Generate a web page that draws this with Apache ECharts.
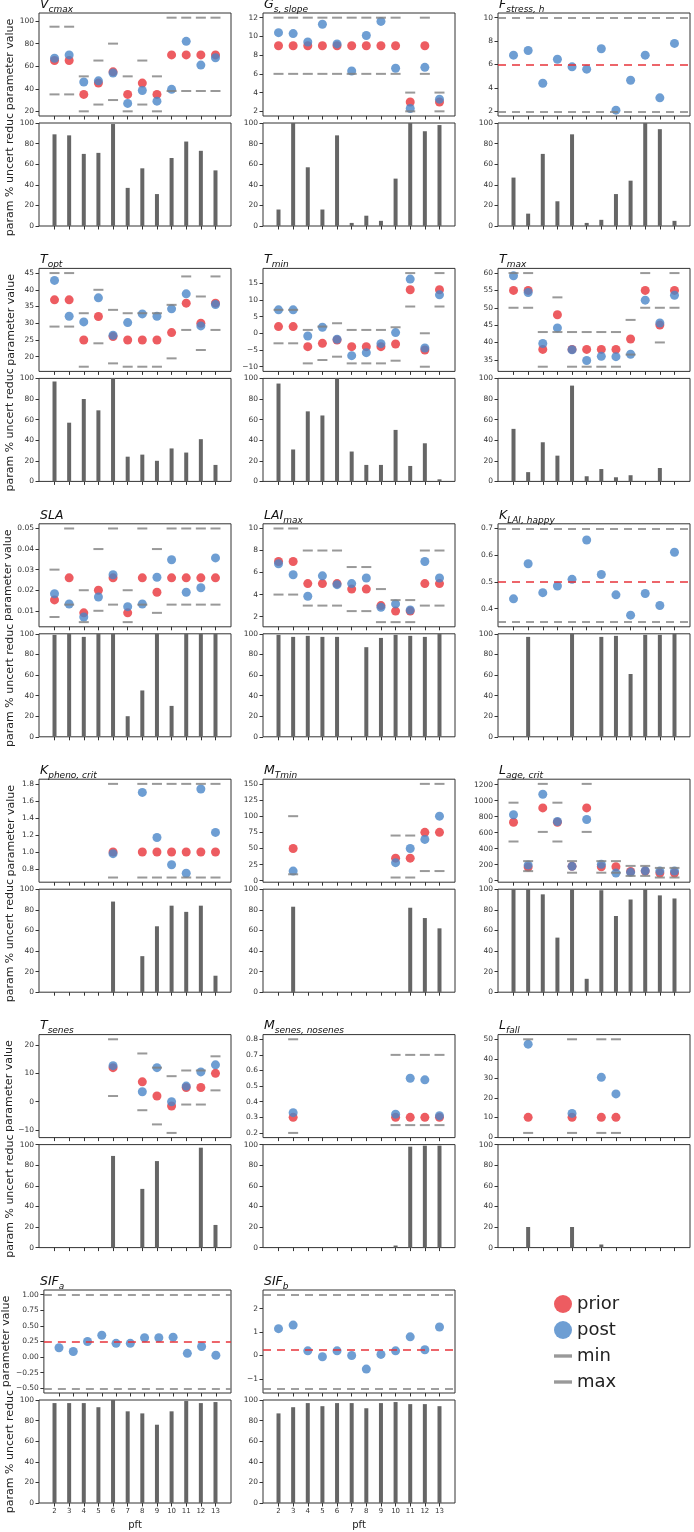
<!DOCTYPE html>
<html><head><meta charset="utf-8">
<script src="https://cdn.jsdelivr.net/npm/echarts@6/dist/echarts.min.js"></script>
<style>html,body{margin:0;padding:0;background:#fff}#c{width:694px;height:1532px}</style>
</head><body><div id="c"></div>
<script>
const pft = [2,3,4,5,6,7,8,9,10,11,12,13];
const reducTicks = [0,20,40,60,80,100];

const vcmaxPrior = [65,65,35,45,55,35,45,35,70,70,70,70];
const vcmaxPost  = [67,70,46,47,54,27,38.5,29,39.5,82,61,67.5];
const vcmaxMin   = [35,35,20,26,30,20,26,20,38,38,38,38];
const vcmaxMax   = [95,95,51,65,80,51,65,51,103,103,103,103];
const vcmaxReduc = [89,88,70,71,99,37,56,31,66,82,73,54];
const vcmaxTicks = [20,40,60,80,100];

const gsPrior = [9,9,9,9,9,9,9,9,9,3,9,3];
const gsPost  = [10.4,10.3,9.4,11.3,9.2,6.3,10.1,11.6,6.6,2.3,6.7,3.3];
const gsMin   = [6,6,6,6,6,6,6,6,6,2,6,2];
const gsMax   = [12,12,12,12,12,12,12,12,12,4,12,4];
const gsReduc = [16,100,57,16,88,3,10,5,46,100,92,98];
const gsTicks = [2,4,6,8,10,12];

const fstressPrior = 6, fstressMin = 2, fstressMax = 10;
const fstressPost  = [6.8,7.2,4.4,6.45,5.8,5.6,7.35,2.1,4.65,6.8,3.15,7.8];
const fstressReduc = [47,12,70,24,89,3,6,31,44,100,94,5];
const fstressTicks = [2,4,6,8,10];

const toptPrior = [37,37,25,32,26,25,25,25,27.2,36,30,36];
const toptPost  = [42.8,32.1,30.4,37.6,26.4,30.2,32.8,32.1,34.3,38.8,29.2,35.6];
const toptMin   = [29,29,17,24,18,17,17,17,19.5,28,22,28];
const toptMax   = [45,45,33,40,34,33,33,33,35.5,44,38,44];
const toptReduc = [97,57,80,69,100,24,26,20,32,28,41,16];
const toptTicks = [20,25,30,35,40,45];

const tminPrior = [2,2,-4,-3,-2,-4,-4,-4,-3.2,13,-5,13];
const tminPost  = [7,7,-0.8,1.8,-1.8,-6.7,-5.8,-3.1,0.2,16.2,-4.4,11.5];
const tminMin   = [-3,-3,-9,-8,-7,-9,-9,-9,-8.2,8,-10,8];
const tminMax   = [7,7,1,2,3,1,1,1,1.8,18,0,18];
const tminReduc = [95,31,68,64,100,29,16,16,50,15,37,2];
const tminTicks = [-10,-5,0,5,10,15];

const tmaxPrior = [55,55,38,48,38,38,38,38,41,55,45,55];
const tmaxPost  = [59.2,54.4,39.7,44.2,37.9,34.8,36.0,35.9,36.6,52.2,45.6,53.6];
const tmaxMin   = [50,50,33,43,33,33,33,33,36.5,50,40,50];
const tmaxMax   = [60,60,43,53,43,43,43,43,46.5,60,50,60];
const tmaxReduc = [51,9,38,25,93,5,12,4,6,0,13,0];
const tmaxTicks = [35,40,45,50,55,60];

const slaPrior = [0.0153,0.026,0.009,0.02,0.026,0.009,0.026,0.019,0.026,0.026,0.026,0.026];
const slaPost  = [0.0183,0.0133,0.007,0.0167,0.0275,0.012,0.0133,0.0263,0.0348,0.019,0.0212,0.0357];
const slaMin   = [0.007,0.013,0.0045,0.010,0.013,0.0045,0.013,0.009,0.013,0.013,0.013,0.013];
const slaMax   = [0.030,0.050,0.020,0.040,0.050,0.020,0.050,0.040,0.050,0.050,0.050,0.050];
const slaReduc = [99,100,97,100,100,20,45,100,30,100,100,100];
const slaTicks = [0.01,0.02,0.03,0.04,0.05];

const laiPrior = [7,7,5,5,5,4.5,4.5,3,2.5,2.5,5,5];
const laiPost  = [6.8,5.8,3.85,5.7,4.9,5.0,5.5,2.85,3.15,2.6,7.0,5.5];
const laiMin   = [4,4,3,3,3,2.5,2.5,1.5,1.5,1.5,3,3];
const laiMax   = [10,10,8,8,8,6.5,6.5,4.5,3.5,3.5,8,8];
const laiReduc = [99,97,98,97,97,0,87,96,99,98,97,100];
const laiTicks = [2,4,6,8,10];

const klaiPrior = 0.5, klaiMin = 0.35, klaiMax = 0.7;
const klaiPost  = [0.437,0.568,0.46,0.485,0.51,0.657,0.528,0.452,0.376,0.457,0.412,0.611];
const klaiReduc = [0,97,0,0,100,0,97,98,61,99,99,100];
const klaiTicks = [0.4,0.5,0.6,0.7];

const kphenoPrior = [null,null,null,null,1.0,null,1.0,1.0,1.0,1.0,1.0,1.0];
const kphenoPost  = [null,null,null,null,0.98,null,1.7,1.17,0.85,0.75,1.74,1.23];
const kphenoMin   = [null,null,null,null,0.7,null,0.7,0.7,0.7,0.7,0.7,0.7];
const kphenoMax   = [null,null,null,null,1.8,null,1.8,1.8,1.8,1.8,1.8,1.8];
const kphenoReduc = [0,0,0,0,88,0,35,64,84,78,84,16];
const kphenoTicks = [0.8,1.0,1.2,1.4,1.6,1.8];

const mtminPrior = [null,50,null,null,null,null,null,null,35,35,75,75];
const mtminPost  = [null,15,null,null,null,null,null,null,28,50,64,100];
const mtminMin   = [null,10,null,null,null,null,null,null,5,5,15,15];
const mtminMax   = [null,100,null,null,null,null,null,null,70,70,150,150];
const mtminReduc = [0,83,0,0,0,0,0,0,0,82,72,62];
const mtminTicks = [0,25,50,75,100,125,150];

const lagePrior = [730,170,910,730,180,910,175,175,115,120,95,95];
const lagePost  = [825,195,1080,740,180,765,205,95,105,125,120,120];
const lageMin   = [490,120,610,490,100,610,100,100,60,60,40,40];
const lageMax   = [975,245,1210,975,245,1210,245,245,185,185,160,160];
const lageReduc = [100,100,95,53,100,13,99,74,90,100,94,91];
const lageTicks = [0,200,400,600,800,1000,1200];

const tsenesPrior = [null,null,null,null,12,null,7,2,-1.5,5,5,10];
const tsenesPost  = [null,null,null,null,12.7,null,3.5,12,0,5.5,10.5,13];
const tsenesMin   = [null,null,null,null,2,null,-3,-8,-11,-1,-1,4];
const tsenesMax   = [null,null,null,null,22,null,17,12,9,11,11,16];
const tsenesReduc = [0,0,0,0,89,0,57,84,0,0,97,22];
const tsenesTicks = [-10,0,10,20];

const msenesPrior = [null,0.3,null,null,null,null,null,null,0.3,0.3,0.3,0.3];
const msenesPost  = [null,0.33,null,null,null,null,null,null,0.32,0.55,0.54,0.31];
const msenesMin   = [null,0.2,null,null,null,null,null,null,0.25,0.25,0.25,0.25];
const msenesMax   = [null,0.8,null,null,null,null,null,null,0.7,0.7,0.7,0.7];
const msenesReduc = [0,0,0,0,0,0,0,0,2,98,99,99];
const msenesTicks = [0.2,0.3,0.4,0.5,0.6,0.7,0.8];

const lfallPrior = [null,10,null,null,10,null,10,10,null,null,null,null];
const lfallPost  = [null,47.5,null,null,12,null,30.5,22,null,null,null,null];
const lfallMin   = [null,2,null,null,2,null,2,2,null,null,null,null];
const lfallMax   = [null,50,null,null,50,null,50,50,null,null,null,null];
const lfallReduc = [0,20,0,0,20,0,3,0,0,0,0,0];
const lfallTicks = [0,10,20,30,40,50];

const sifaPrior = 0.25, sifaMin = -0.5, sifaMax = 1.0;
const sifaPost  = [0.15,0.09,0.25,0.35,0.22,0.22,0.31,0.31,0.32,0.06,0.17,0.03];
const sifaReduc = [97,97,97,93,100,89,87,76,89,99,97,98];
const sifaTicks = [-0.5,-0.25,0,0.25,0.5,0.75,1.0];

const sifbPrior = 0.25, sifbMin = -1.4, sifbMax = 2.6;
const sifbPost  = [1.15,1.3,0.2,-0.05,0.2,0.0,-0.58,0.05,0.2,0.8,0.25,1.22];
const sifbReduc = [87,93,97,94,97,97,92,97,98,96,96,94];
const sifbTicks = [-1,0,1,2];

const panels = [
  {t:['V','cmax'], prior:vcmaxPrior, post:vcmaxPost, min:vcmaxMin, max:vcmaxMax, reduc:vcmaxReduc, ticks:vcmaxTicks, dec:0},
  {t:['G','s, slope'], prior:gsPrior, post:gsPost, min:gsMin, max:gsMax, reduc:gsReduc, ticks:gsTicks, dec:0},
  {t:['F','stress, h'], prior:fstressPrior, post:fstressPost, min:fstressMin, max:fstressMax, reduc:fstressReduc, ticks:fstressTicks, dec:0},
  {t:['T','opt'], prior:toptPrior, post:toptPost, min:toptMin, max:toptMax, reduc:toptReduc, ticks:toptTicks, dec:0},
  {t:['T','min'], prior:tminPrior, post:tminPost, min:tminMin, max:tminMax, reduc:tminReduc, ticks:tminTicks, dec:0},
  {t:['T','max'], prior:tmaxPrior, post:tmaxPost, min:tmaxMin, max:tmaxMax, reduc:tmaxReduc, ticks:tmaxTicks, dec:0},
  {t:['SLA',''], prior:slaPrior, post:slaPost, min:slaMin, max:slaMax, reduc:slaReduc, ticks:slaTicks, dec:2},
  {t:['LAI','max'], prior:laiPrior, post:laiPost, min:laiMin, max:laiMax, reduc:laiReduc, ticks:laiTicks, dec:0},
  {t:['K','LAI, happy'], prior:klaiPrior, post:klaiPost, min:klaiMin, max:klaiMax, reduc:klaiReduc, ticks:klaiTicks, dec:1},
  {t:['K','pheno, crit'], prior:kphenoPrior, post:kphenoPost, min:kphenoMin, max:kphenoMax, reduc:kphenoReduc, ticks:kphenoTicks, dec:1},
  {t:['M','Tmin'], prior:mtminPrior, post:mtminPost, min:mtminMin, max:mtminMax, reduc:mtminReduc, ticks:mtminTicks, dec:0},
  {t:['L','age, crit'], prior:lagePrior, post:lagePost, min:lageMin, max:lageMax, reduc:lageReduc, ticks:lageTicks, dec:0},
  {t:['T','senes'], prior:tsenesPrior, post:tsenesPost, min:tsenesMin, max:tsenesMax, reduc:tsenesReduc, ticks:tsenesTicks, dec:0},
  {t:['M','senes, nosenes'], prior:msenesPrior, post:msenesPost, min:msenesMin, max:msenesMax, reduc:msenesReduc, ticks:msenesTicks, dec:1},
  {t:['L','fall'], prior:lfallPrior, post:lfallPost, min:lfallMin, max:lfallMax, reduc:lfallReduc, ticks:lfallTicks, dec:0},
  {t:['SIF','a'], prior:sifaPrior, post:sifaPost, min:sifaMin, max:sifaMax, reduc:sifaReduc, ticks:sifaTicks, dec:2},
  {t:['SIF','b'], prior:sifbPrior, post:sifbPost, min:sifbMin, max:sifbMax, reduc:sifbReduc, ticks:sifbTicks, dec:0}
];

const RED = '#e8333a', BLUE = '#4a86c8', GRAY = '#808080', BAR = '#666666', INK = '#333333';
const FONT = 'DejaVu Sans';
const colLeft = [39, 263, 498], panelW = 192, pH = 103, rowStep = 255.4, firstTop = 13, barOff = 110;
const X_MIN = 0.94, X_MAX = 14.06;

const fmt = (v, dec) => v.toFixed(dec).replace('-', '\u2212');
const pts = arr => pft.map((p, i) => [p, arr[i]]).filter(d => d[1] !== null && d[1] !== undefined);

const grids = [], xAxes = [], yAxes = [], series = [], titles = [];

panels.forEach((P, k) => {
  const col = k % 3, row = Math.floor(k / 3);
  const left = colLeft[col], top = firstTop + row * rowStep;
  const isBottom = row === 5;
  const vals = [];
  [P.prior, P.post, P.min, P.max].forEach(a => { if (Array.isArray(a)) a.forEach(v => { if (v !== null) vals.push(v); }); else vals.push(a); });
  const lo = Math.min(...vals), hi = Math.max(...vals), pad = (hi - lo) * 0.05;

  const gS = grids.length;
  grids.push({left, top, width: panelW, height: pH, show: true, borderColor: INK, borderWidth: 1, backgroundColor: 'transparent'});
  grids.push({left, top: top + barOff, width: panelW, height: pH, show: true, borderColor: INK, borderWidth: 1, backgroundColor: 'transparent'});

  const xBase = (gi, showLab) => ({
    gridIndex: gi, type: 'value', min: X_MIN, max: X_MAX,
    axisLine: {show: false, onZero: false},
    axisTick: {show: true, length: 3.5, lineStyle: {color: INK, width: 1}, customValues: pft},
    axisLabel: {show: showLab, customValues: pft, fontSize: 7, color: INK, fontFamily: FONT, margin: 5},
    splitLine: {show: false},
    name: showLab ? 'pft' : '', nameLocation: 'middle', nameGap: 17,
    nameTextStyle: {fontSize: 10, color: '#222', fontFamily: FONT}
  });
  xAxes.push(xBase(gS, false));
  xAxes.push(xBase(gS + 1, isBottom));

  const yBase = (gi, mn, mx, ticks, dec, name) => ({
    gridIndex: gi, type: 'value', min: mn, max: mx,
    axisLine: {show: false, onZero: false},
    axisTick: {show: true, length: 3.5, lineStyle: {color: INK, width: 1}, customValues: ticks},
    axisLabel: {customValues: ticks, fontSize: 7.5, color: INK, fontFamily: FONT, margin: 5, formatter: v => fmt(v, dec)},
    splitLine: {show: false},
    name: col === 0 ? name : '', nameLocation: 'middle', nameGap: 22,
    nameTextStyle: {fontSize: 11, color: '#222', fontFamily: FONT}
  });
  yAxes.push(yBase(gS, lo - pad, hi + pad, P.ticks, P.dec, 'parameter value'));
  yAxes.push(yBase(gS + 1, 0, 100, reducTicks, 0, 'param % uncert reduc'));

  const constant = !Array.isArray(P.prior);
  const dash = [8, 6];
  if (!constant) {
    series.push({type: 'scatter', name: 'prior', xAxisIndex: gS, yAxisIndex: gS, data: pts(P.prior), symbolSize: 9, itemStyle: {color: RED}, z: 2, silent: true});
  } else {
    series.push({type: 'scatter', name: 'prior', xAxisIndex: gS, yAxisIndex: gS, data: [], itemStyle: {color: RED}, silent: true,
      markLine: {silent: true, symbol: ['none', 'none'], label: {show: false}, animation: false,
        data: [
          {yAxis: P.prior, lineStyle: {color: RED, type: dash, width: 1.5}},
          {yAxis: P.min, lineStyle: {color: GRAY, type: dash, width: 1.5}},
          {yAxis: P.max, lineStyle: {color: GRAY, type: dash, width: 1.5}}
        ]}});
  }
  series.push({type: 'scatter', name: 'post', xAxisIndex: gS, yAxisIndex: gS, data: pts(P.post), symbolSize: 9, itemStyle: {color: BLUE}, z: 3, silent: true});
  if (!constant) {
    series.push({type: 'scatter', name: 'min', xAxisIndex: gS, yAxisIndex: gS, data: pts(P.min), symbol: 'rect', symbolSize: [10, 2], itemStyle: {color: GRAY}, z: 4, silent: true});
    series.push({type: 'scatter', name: 'max', xAxisIndex: gS, yAxisIndex: gS, data: pts(P.max), symbol: 'rect', symbolSize: [10, 2], itemStyle: {color: GRAY}, z: 4, silent: true});
  }
  series.push({type: 'bar', name: 'reduc', xAxisIndex: gS + 1, yAxisIndex: gS + 1, data: pts(P.reduc), barWidth: 4, itemStyle: {color: BAR}, silent: true});

  titles.push({
    text: P.t[1] ? '{m|' + P.t[0] + '}{s|' + P.t[1] + '}' : '{m|' + P.t[0] + '}',
    left: left + 1, top: top - 15, padding: 0,
    textStyle: {fontWeight: 'normal', rich: {
      m: {fontSize: 12.5, fontStyle: 'italic', fontWeight: 'normal', fontFamily: FONT, color: '#111', verticalAlign: 'bottom', padding: [0, 0, 3, 0]},
      s: {fontSize: 9, fontStyle: 'italic', fontWeight: 'normal', fontFamily: FONT, color: '#111', verticalAlign: 'bottom'}
    }}
  });
});

const dashIcon = 'path://M0,0H16V3H0Z';
const chart = echarts.init(document.getElementById('c'), null, {renderer: 'canvas'});
chart.setOption({
  animation: false,
  backgroundColor: '#fff',
  title: titles,
  grid: grids, xAxis: xAxes, yAxis: yAxes, series,
  legend: {
    orient: 'vertical', left: 549, top: 1290, itemWidth: 18, itemHeight: 18, itemGap: 8, selectedMode: false,
    textStyle: {fontSize: 18, color: '#222', fontFamily: FONT},
    data: [
      {name: 'prior', icon: 'circle'},
      {name: 'post', icon: 'circle'},
      {name: 'min', icon: dashIcon},
      {name: 'max', icon: dashIcon}
    ]
  }
});
</script></body></html>
